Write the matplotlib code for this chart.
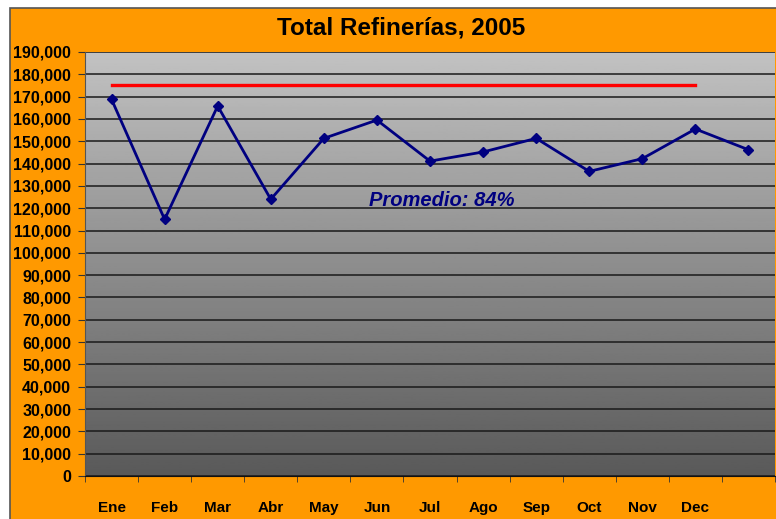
import matplotlib.pyplot as plt
import numpy as np
from matplotlib.patches import Rectangle
from matplotlib.ticker import FuncFormatter

plt.rcParams['font.family'] = ['Liberation Sans', 'DejaVu Sans']

months = ['Ene', 'Feb', 'Mar', 'Abr', 'May', 'Jun', 'Jul', 'Ago', 'Sep', 'Oct', 'Nov', 'Dec', '']
totals = [168800, 115000, 165800, 124000, 151300, 159500, 141100, 145200, 151300, 136500, 142200, 155500, 146200]
capacity = [175000] * 12
note = 'Promedio: 84%'

W, H = 776, 519
fig = plt.figure(figsize=(W / 100, H / 100), dpi=100, facecolor='white')

# orange chart area
fig.patches.append(Rectangle((10 / W, -0.01), 1, 1.01 - 8 / H, transform=fig.transFigure,
                             facecolor='#ff9900', edgecolor='#555555', lw=1.2, zorder=-1))

ax = fig.add_axes([85 / W, (H - 476) / H, 690 / W, 424 / H])
ax.set_zorder(1)
x = np.arange(len(months))

# grey gradient background
grad = np.linspace(0.76, 0.35, 256).reshape(-1, 1)
ax.imshow(grad, cmap='gray', vmin=0, vmax=1, aspect='auto',
          extent=(-0.5, 12.5, 0, 190000), zorder=0)

ax.plot(x, totals, color='#000080', lw=2, marker='D', ms=5, zorder=3)
ax.plot(x[:12], capacity, color='#ff0000', lw=2.4, zorder=3)

ax.text(4.86, 123500, note, color='#000080', fontsize=14.5, fontweight='bold',
        fontstyle='italic', va='center', ha='left', zorder=4)

ax.set_xlim(-0.5, 12.5)
ax.set_ylim(0, 190000)
ax.set_yticks(np.arange(0, 190001, 10000))
ax.yaxis.set_major_formatter(FuncFormatter(lambda v, p: f'{int(v):,}'))
ax.set_xticks(x)
ax.set_xticklabels(months)
ax.set_xticks(np.arange(-0.5, 13, 1), minor=True)
ax.tick_params(axis='x', which='major', length=0, pad=18, labelsize=11)
ax.tick_params(axis='x', which='minor', length=4, direction='out', color='#333333')
ax.tick_params(axis='y', length=5, pad=5, labelsize=11.5, color='#333333')
for lab in ax.get_xticklabels() + ax.get_yticklabels():
    lab.set_fontweight('bold')

ax.grid(axis='y', color='#1a1a1a', lw=1.1)
ax.set_axisbelow(True)
for s in ['top', 'right']:
    ax.spines[s].set_visible(False)
ax.spines['left'].set_color('#555555')
ax.spines['bottom'].set_color('#111111')

fig.text(401 / W, 1 - 28 / H, 'Total Refinerías, 2005', ha='center', va='center',
         fontsize=17.5, fontweight='bold')

fig.savefig('out.png', dpi=100, facecolor='white')
